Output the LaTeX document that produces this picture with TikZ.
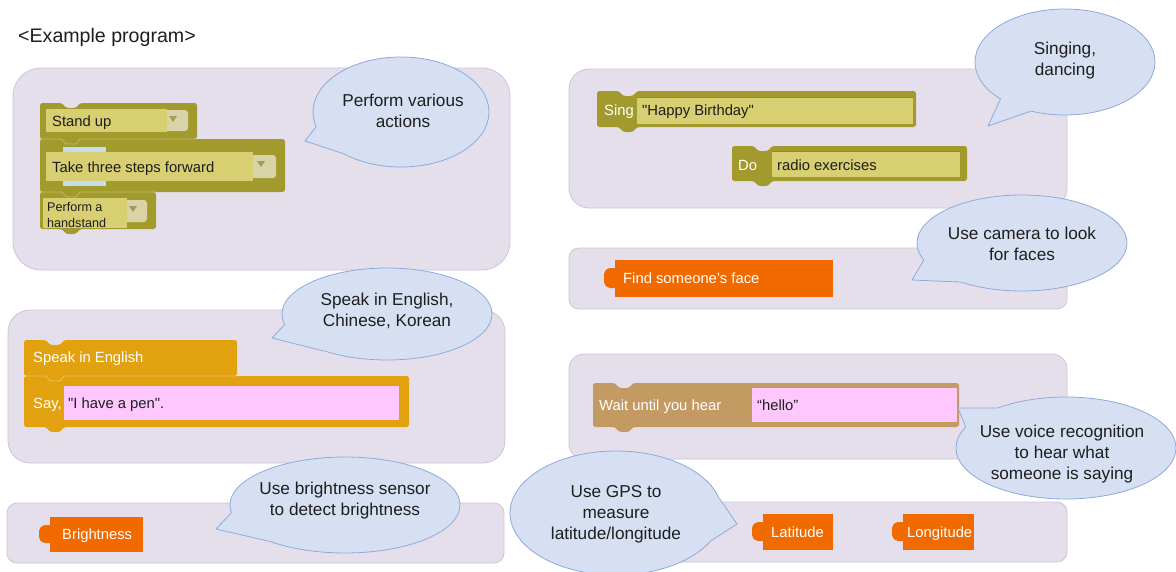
\documentclass[tikz,border=0pt]{standalone}
\usepackage{fontspec}
\setmainfont{Liberation Sans}
\usetikzlibrary{shapes.geometric,calc}

\definecolor{panelfill}{HTML}{E5DFEC}
\definecolor{panelline}{HTML}{CDC5DA}
\definecolor{bubblefill}{HTML}{D6E0F2}
\definecolor{bubbleline}{HTML}{8EAADB}
\definecolor{olive}{HTML}{A39A2E}
\definecolor{olivedark}{HTML}{938A24}
\definecolor{oliveseam}{HTML}{C2BA62}
\definecolor{olivefield}{HTML}{D8CE72}
\definecolor{dropfield}{HTML}{D8D4A8}
\definecolor{droparrow}{HTML}{A39D55}
\definecolor{gold}{HTML}{E2A10F}
\definecolor{pinkfield}{HTML}{FEC8FE}
\definecolor{sensor}{HTML}{F06A00}
\definecolor{tan}{HTML}{C49A63}
\definecolor{stripblue}{HTML}{C4DDEE}
\definecolor{ink}{HTML}{1E1E1E}

% statement block: top notch and bottom tab
\newcommand\blockbody[5][]{%
  \fill[rounded corners=2.5pt,#1] (#2,#3) -- ({#2+22},#3) -- ({#2+26},{#3+5}) -- ({#2+36},{#3+5}) -- ({#2+40},#3)
    -- (#4,#3) -- (#4,#5) -- ({#2+40},#5) -- ({#2+36},{#5+5}) -- ({#2+26},{#5+5}) -- ({#2+22},#5) -- (#2,#5) -- cycle;}
% sensor block with output tab on the left
\newcommand\sensorbody[4]{%
  \fill[sensor] (#1,#2) rectangle (#3,#4);
  \fill[sensor,rounded corners=2pt] ({#1+1},{#2+8}) -- ({#1-7},{#2+8}) -- ({#1-11},{#2+12})
    -- ({#1-11},{#4-13}) -- ({#1-7},{#4-9}) -- ({#1+1},{#4-9}) -- cycle;}
% speech-bubble tail from an ellipse node to a tip coordinate
\newcommand\bubbletail[4]{%
  \fill[bubblefill] (#2) -- (#1.#3) -- ($(#1.center)!0.85!(#1.#3)$) -- ($(#1.center)!0.85!(#1.#4)$) -- (#1.#4) -- cycle;
  \draw[tailline] (#1.#3) -- (#2) -- (#1.#4);}
% small dropdown arrow
\newcommand\droparrowat[2]{%
  \fill[droparrow] ({#1-4},{#2-3}) -- ({#1+4},{#2-3}) -- (#1,{#2+3}) -- cycle;}

\begin{document}
\begin{tikzpicture}[x=1pt,y=-1pt,
  panel/.style={fill=panelfill,draw=panelline,line width=0.8pt},
  bubble/.style={ellipse,fill=bubblefill,draw=bubbleline,line width=0.8pt,inner sep=0pt},
  bubbletext/.style={align=center,inner sep=0pt,text=ink,font=\fontsize{17.2}{21}\selectfont},
  tailline/.style={draw=bubbleline,line width=0.8pt,line join=round},
  blocktext/.style={anchor=base west,inner sep=0pt,text=ink,font=\fontsize{14.8}{16}\selectfont},
  whitetext/.style={blocktext,text=white},
  smalltext/.style={anchor=base west,inner sep=0pt,text=ink,font=\fontsize{12.6}{15}\selectfont},
  seam/.style={draw=oliveseam,line width=0.7pt},
  fieldline/.style={draw=olivedark,line width=0.8pt}
]
\useasboundingbox (0,0) rectangle (1176,571);
\fill[white] (0,0) rectangle (1176,571);

\node[anchor=base west,inner sep=0pt,text=ink,font=\fontsize{19.6}{22}\selectfont] (title) at (18,42) {<Example program>};

% panels
\draw[panel,rounded corners=28pt] (13,68) rectangle (510,270);
\draw[panel,rounded corners=20pt] (569,69) rectangle (1067,208);
\draw[panel,rounded corners=22pt] (8,310) rectangle (505,463);
\draw[panel,rounded corners=10pt] (569,248) rectangle (1067,309);
\draw[panel,rounded corners=15pt] (569,354) rectangle (1067,459);
\draw[panel,rounded corners=10pt] (7,503) rectangle (504,563);
\draw[panel,rounded corners=10pt] (569,502) rectangle (1067,562);

% action stack
\blockbody[fill=olive]{40}{103}{197}{139}
\blockbody[fill=olive]{40}{139}{285}{192}
\blockbody[fill=olive]{40}{192}{156}{229}
\draw[seam] (40,139) -- (62,139) -- (66,144) -- (76,144) -- (80,139) -- (197,139);
\draw[seam] (40,192) -- (62,192) -- (66,197) -- (76,197) -- (80,192) -- (156,192);
\fill[dropfield,rounded corners=3pt] (160,110) rectangle (188,131);
\fill[olivefield] (46,109) rectangle (167,132);
\droparrowat{173}{119}
\fill[stripblue] (63,147) rectangle (106,152);
\fill[stripblue] (63,181) rectangle (106,186);
\fill[dropfield,rounded corners=3pt] (245,155) rectangle (276,178);
\fill[olivefield] (46,152) rectangle (253,181);
\droparrowat{261}{164}
\fill[dropfield,rounded corners=3pt] (120,200) rectangle (147,222);
\fill[olivefield] (43,198) rectangle (127,228);
\droparrowat{133}{209}
\node[blocktext] (standup) at (52,126.5) {Stand up};
\node[blocktext] (steps) at (52,172.5) {Take three steps forward};
\node[smalltext] (hand1) at (47,211.5) {Perform a};
\node[smalltext] (hand2) at (47,227) {handstand};

% singing and dancing
\blockbody[fill=olive]{597}{91}{916}{127}
\fill[olivefield] (637,97) rectangle (913,124);
\draw[fieldline] (637,97) -- (913,97);
\node[whitetext] (sing) at (604,115.5) {Sing};
\node[blocktext] (song) at (642,115.5) {\textquotedbl Happy Birthday\textquotedbl};
\blockbody[fill=olive]{732}{146}{967}{181}
\fill[olivefield] (772,151) rectangle (960,177);
\draw[fieldline] (772,151) -- (960,151);
\node[whitetext] (do) at (738,170.5) {Do};
\node[blocktext] (radio) at (777,170.5) {radio exercises};

% speaking
\blockbody[fill=gold]{24}{340}{237}{376}
\blockbody[fill=gold]{24}{376}{409}{427}
\draw[draw=white,opacity=0.35,line width=0.7pt] (24,376) -- (46,376) -- (50,381) -- (60,381) -- (64,376) -- (237,376);
\fill[pinkfield] (64,386) rectangle (399,420);
\node[whitetext] (speak) at (33,362.5) {Speak in English};
\node[whitetext] (say) at (33,408.5) {Say,};
\node[blocktext] (pen) at (68,408.5) {\textquotedbl I have a pen\textquotedbl.};

% sensing
\sensorbody{615}{260}{833}{297}
\node[whitetext] (face) at (623,283.5) {Find someone's face};
\blockbody[fill=tan]{593}{383}{959}{427}
\fill[pinkfield] (752,388) rectangle (957,422);
\node[whitetext] (wait) at (599,410.5) {Wait until you hear};
\node[blocktext] (hello) at (757,410.5) {“hello”};
\sensorbody{50}{517}{143}{552}
\node[whitetext] (bright) at (62,539.5) {Brightness};
\sensorbody{763}{514}{833}{550}
\node[whitetext] (lat) at (771,537.5) {Latitude};
\sensorbody{903}{514}{974}{550}
\node[whitetext] (lon) at (907,537.5) {Longitude};

% speech bubbles
\node[bubble,minimum width=176pt,minimum height=110pt] (actBub) at (401,112) {};
\coordinate (actTip) at (305,141);
\bubbletail{actBub}{actTip}{190}{215}
\node[bubbletext] (actTxt) at (403,110.5) {Perform various\\actions};

\node[bubble,minimum width=180pt,minimum height=106pt] (singBub) at (1065,62) {};
\coordinate (singTip) at (988,126);
\bubbletail{singBub}{singTip}{210}{235}
\node[bubbletext] (singTxt) at (1065,61) {Singing,\\dancing};

\node[bubble,minimum width=210pt,minimum height=92pt] (speakBub) at (387,314) {};
\coordinate (speakTip) at (272,338);
\bubbletail{speakBub}{speakTip}{186}{210}
\node[bubbletext] (speakTxt) at (387,311) {Speak in English,\\Chinese, Korean};

\node[bubble,minimum width=210pt,minimum height=96pt] (camBub) at (1022,243) {};
\coordinate (camTip) at (912,280);
\bubbletail{camBub}{camTip}{190}{212}
\node[bubbletext] (camTxt) at (1022,243.5) {Use camera to look\\for faces};

\node[bubble,minimum width=220pt,minimum height=102pt] (voiceBub) at (1066,448) {};
\coordinate (voiceTip) at (958,408);
\bubbletail{voiceBub}{voiceTip}{150}{168}
\node[bubbletext] (voiceTxt) at (1062,454) {Use voice recognition\\to hear what\\someone is saying};

\node[bubble,minimum width=230pt,minimum height=96pt] (brightBub) at (345,505) {};
\coordinate (brightTip) at (216,529);
\bubbletail{brightBub}{brightTip}{184}{205}
\node[bubbletext] (brightTxt) at (345,501) {Use brightness sensor\\to detect brightness};

\node[bubble,minimum width=212pt,minimum height=124pt] (gpsBub) at (616,513) {};
\coordinate (gpsTip) at (737,524);
\bubbletail{gpsBub}{gpsTip}{8}{-16}
\node[bubbletext] (gpsTxt) at (616,514) {Use GPS to\\measure\\latitude/longitude};
\end{tikzpicture}
\end{document}
